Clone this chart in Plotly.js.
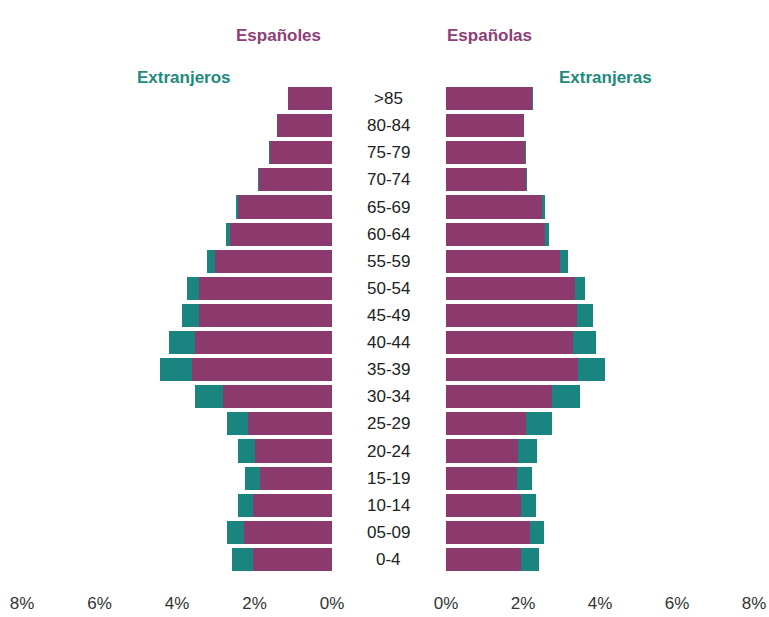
<!DOCTYPE html>
<html>
<head>
<meta charset="utf-8">
<script src="https://cdn.plot.ly/plotly-3.0.1.min.js"></script>
<style>html,body{margin:0;padding:0;background:#fff;}#chart{width:769px;height:617px;}</style>
</head>
<body>
<div id="chart"></div>
<script>
// Age groups, bottom to top
const ages = ['0-4','05-09','10-14','15-19','20-24','25-29','30-34','35-39','40-44','45-49','50-54','55-59','60-64','65-69','70-74','75-79','80-84','>85'];
// Men (% of population)
const espanoles   = [2.05, 2.27, 2.03, 1.86, 1.98, 2.17, 2.82, 3.61, 3.54, 3.43, 3.43, 3.02, 2.63, 2.42, 1.89, 1.60, 1.41, 1.13];
const extranjeros = [0.52, 0.43, 0.39, 0.38, 0.44, 0.54, 0.72, 0.83, 0.66, 0.44, 0.30, 0.21, 0.11, 0.05, 0.02, 0.03, 0.01, 0.01];
// Women (% of population)
const espanolas   = [1.94, 2.17, 1.94, 1.85, 1.87, 2.08, 2.75, 3.43, 3.30, 3.40, 3.34, 2.95, 2.56, 2.49, 2.09, 2.05, 2.02, 2.24];
const extranjeras = [0.47, 0.37, 0.40, 0.38, 0.49, 0.68, 0.73, 0.69, 0.59, 0.43, 0.27, 0.23, 0.11, 0.07, 0.02, 0.02, 0.01, 0.01];
const tickVals = [0, 2, 4, 6, 8];
const tickText = ['0%', '2%', '4%', '6%', '8%'];

const PURPLE = '#8c3a6e';
const TEAL = '#1a8580';
const FONT = '"Liberation Sans Narrow", "Arial Narrow", "Liberation Sans", Arial, sans-serif';

const traces = [
  {type:'bar', orientation:'h', y:ages, x:espanoles, xaxis:'x', yaxis:'y', marker:{color:PURPLE, line:{width:0}}, name:'Españoles', hoverinfo:'x+y'},
  {type:'bar', orientation:'h', y:ages, x:extranjeros, xaxis:'x', yaxis:'y', marker:{color:TEAL, line:{width:0}}, name:'Extranjeros', hoverinfo:'x+y'},
  {type:'bar', orientation:'h', y:ages, x:espanolas, xaxis:'x2', yaxis:'y2', marker:{color:PURPLE, line:{width:0}}, name:'Españolas', hoverinfo:'x+y'},
  {type:'bar', orientation:'h', y:ages, x:extranjeras, xaxis:'x2', yaxis:'y2', marker:{color:TEAL, line:{width:0}}, name:'Extranjeras', hoverinfo:'x+y'}
];

const axisX = {
  tickvals: tickVals, ticktext: tickText, showgrid:false, zeroline:false, showline:false,
  ticks:'', ticklabelstandoff: 18,
  tickfont:{family:FONT, size:17, color:'#333'}, fixedrange:true
};
const axisY = {
  type:'category', categoryorder:'array', categoryarray: ages, range:[-0.5, 17.5],
  showticklabels:false, showgrid:false, zeroline:false, showline:false, ticks:'', fixedrange:true
};

const annotations = ages.map(a => ({
  xref:'paper', yref:'y', x:0.5, y:a, text:a, showarrow:false,
  xanchor:'center', yanchor:'middle',
  font:{family:FONT, size:17, color:'#222'}
}));
annotations.push(
  {xref:'paper', yref:'paper', x:(278-22)/732, y:1+(85-36)/488, text:'<b>Españoles</b>', showarrow:false, xanchor:'center', yanchor:'middle', font:{family:FONT, size:17, color:'#8e3d76'}},
  {xref:'paper', yref:'paper', x:(489-22)/732, y:1+(85-36)/488, text:'<b>Españolas</b>', showarrow:false, xanchor:'center', yanchor:'middle', font:{family:FONT, size:17, color:'#8e3d76'}},
  {xref:'paper', yref:'paper', x:(184-22)/732, y:1+(85-78)/488, text:'<b>Extranjeros</b>', showarrow:false, xanchor:'center', yanchor:'middle', font:{family:FONT, size:17, color:'#1d8a7e'}},
  {xref:'paper', yref:'paper', x:(605-22)/732, y:1+(85-78)/488, text:'<b>Extranjeras</b>', showarrow:false, xanchor:'center', yanchor:'middle', font:{family:FONT, size:17, color:'#1d8a7e'}}
);

const layout = {
  width:769, height:617,
  margin:{l:22, r:15, t:85, b:44},
  paper_bgcolor:'#fff', plot_bgcolor:'#fff',
  barmode:'stack', bargap:0.15, showlegend:false,
  xaxis: Object.assign({}, axisX, {domain:[0, (332-22)/732], range:[8, 0], anchor:'y'}),
  xaxis2: Object.assign({}, axisX, {domain:[(446-22)/732, 1], range:[0, 8], anchor:'y2'}),
  yaxis: Object.assign({}, axisY, {anchor:'x', domain:[0,1]}),
  yaxis2: Object.assign({}, axisY, {anchor:'x2', domain:[0,1]}),
  annotations: annotations
};

Plotly.newPlot('chart', traces, layout, {displayModeBar:false, staticPlot:true});
</script>
</body>
</html>
